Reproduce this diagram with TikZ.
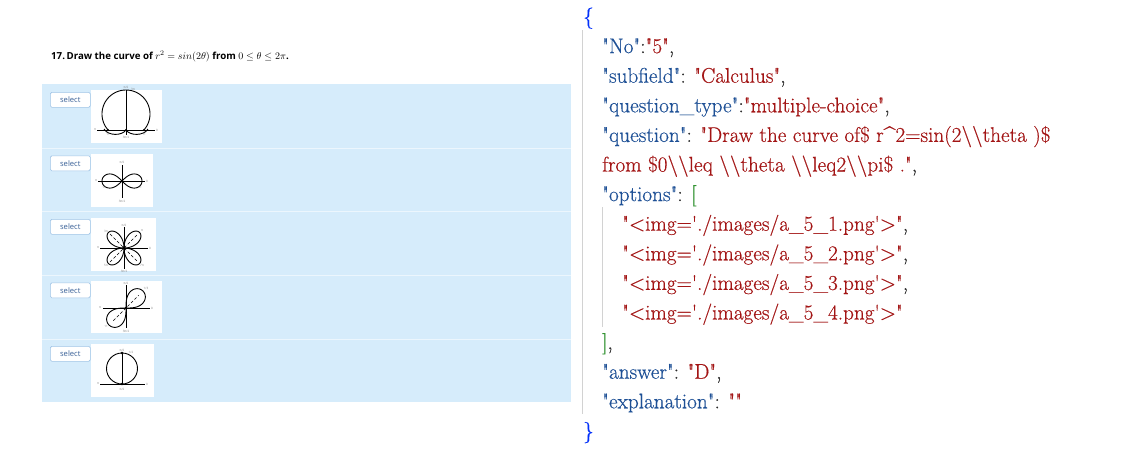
\documentclass[tikz,border=0pt]{standalone}
\usepackage{fontspec}
\newfontfamily\uisans{Open Sans}
\newfontfamily\jsonfont{Latin Modern Roman}[FakeBold=0.45]
\definecolor{panel}{RGB}{214,236,251}
\definecolor{sepline}{RGB}{236,246,253}
\definecolor{btnborder}{RGB}{160,196,230}
\definecolor{btntext}{RGB}{55,95,150}
\definecolor{jkey}{RGB}{30,80,150}
\definecolor{jstr}{RGB}{163,21,21}
\definecolor{jbrace}{RGB}{4,49,250}
\definecolor{jbrack}{RGB}{49,147,49}
\definecolor{jpunct}{RGB}{40,40,40}
\definecolor{guide}{RGB}{210,210,210}
\newcommand{\dq}{\textquotedbl}
\newcommand{\jk}[1]{\textcolor{jkey}{\dq#1\dq}}
\newcommand{\js}[1]{\textcolor{jstr}{\dq#1\dq}}
\newcommand{\jr}[1]{\textcolor{jstr}{#1}}
\newcommand{\jp}[1]{\textcolor{jpunct}{#1}}
\newcommand{\bs}{\textbackslash\textbackslash{}}
\newcommand{\sq}{\textquotesingle}
\tikzset{
  jline/.style={anchor=base west, inner sep=0pt, font=\jsonfont\fontsize{21.2}{21.2}\selectfont},
  btn/.style={draw=btnborder, fill=white, rounded corners=1.5pt, line width=0.6pt,
    minimum width=40pt, minimum height=15pt, inner sep=0pt, anchor=north west,
    font=\uisans\fontsize{7.6}{7.6}\selectfont, text=btntext},
  imgbox/.style={fill=white, draw=none, inner sep=0pt, anchor=north west},
  curve/.style={line width=0.9pt, black},
  axisln/.style={line width=1pt, black},
  lbl/.style={font=\uisans\fontsize{3}{3}\selectfont, text=gray, inner sep=0pt},
  dotp/.style={fill=black}
}
\begin{document}
\begin{tikzpicture}[x=1pt,y=-1pt]
\useasboundingbox (0,0) rectangle (1144,459);
\fill[white] (0,0) rectangle (1144,459);

% ---------- left panel ----------
\node[anchor=base west, inner sep=0pt, font=\uisans\bfseries\fontsize{9.7}{9.7}\selectfont] (q) at (51,59)
  {17.\,Draw the curve of $r^2=sin(2\theta)$ from $0\leq\theta\leq2\pi$.};

\fill[panel] (42,84) rectangle (571,402);
\foreach \yy in {148,211.7,275.5,339}
  \draw[sepline, line width=1pt] (42,\yy) -- (571,\yy);

% buttons and image boxes
\node[btn] (b1) at (50,92) {select};
\node[btn] (b2) at (50,155.5) {select};
\node[btn] (b3) at (50,219) {select};
\node[btn] (b4) at (50,282.5) {select};
\node[btn] (b5) at (50,346) {select};

\node[imgbox, minimum width=71pt, minimum height=53pt] (i1) at (91,90) {};
\node[imgbox, minimum width=62pt, minimum height=53pt] (i2) at (91,154) {};
\node[imgbox, minimum width=65pt, minimum height=53pt] (i3) at (91,218) {};
\node[imgbox, minimum width=71pt, minimum height=52pt] (i4) at (91,281) {};
\node[imgbox, minimum width=63pt, minimum height=53pt] (i5) at (91,344) {};

% plot 1
\begin{scope}[shift={(126,130)}]
  \draw[axisln] (-29,0) -- (29,0);
  \draw[curve] plot[domain=-41.8:221.8, samples=70, smooth] ({24*cos(\x)},{-16-24*sin(\x)});
  \draw[curve] (-22,-1) .. controls (-18,6) and (-4,6) .. (0,0);
  \draw[curve] (0,0) .. controls (4,6) and (18,6) .. (22,-1);
  \draw[curve] (0,-40) -- (0,5);
  \fill[dotp] (-18,0) circle (1.2) (18,0) circle (1.2) (0,0) circle (1.2);
  \node[lbl] (l1a) at (0,-42.5) {π/2};
  \node[lbl] (l1b) at (7,-41) {3π};
  \node[lbl] (l1c) at (-31,0) {π};
  \node[lbl] (l1d) at (31,0) {0};
  \node[lbl] (l1e) at (-18,4) {11};
  \node[lbl] (l1f) at (0,7.5) {3π/2};
  \node[lbl] (l1g) at (18,4) {11};
\end{scope}

% plot 2
\begin{scope}[shift={(122,181)}]
  \draw[axisln] (-24,0) -- (23,0);
  \draw[axisln] (0,-16) -- (0,17);
  \draw[curve] plot[domain=0:360, samples=120, smooth] ({20*cos(\x)/(1+sin(\x)*sin(\x))},{20*sin(\x)*cos(\x)/(1+sin(\x)*sin(\x))});
  \fill[dotp] (0,0) circle (1.3);
  \node[lbl] (l2a) at (0,-19) {π/2};
  \node[lbl] (l2b) at (-26,0) {π};
  \node[lbl] (l2c) at (25,0) {0};
  \node[lbl] (l2d) at (-18,6) {11};
  \node[lbl] (l2e) at (18,6) {11};
  \node[lbl] (l2f) at (0,20) {3π/2};
\end{scope}

% plot 3
\begin{scope}[shift={(124,248)}]
  \draw[axisln] (-24,0) -- (24,0);
  \draw[axisln] (0,-21) -- (0,21);
  \draw[curve] plot[domain=0:360, samples=160, smooth] ({22*sin(2*\x)*cos(\x)},{22*sin(2*\x)*sin(\x)});
  \draw[densely dashed, line width=0.4pt] (-14,-14) -- (14,14) (-14,14) -- (14,-14);
  \fill[dotp] (0,0) circle (1.8);
  \node[lbl] (l3a) at (0,-23) {π/2};
  \node[lbl] (l3b) at (-18,-17) {3π};
  \node[lbl] (l3c) at (18,-17) {π};
  \node[lbl] (l3d) at (-26,0) {π};
  \node[lbl] (l3e) at (26,0) {0};
  \node[lbl] (l3f) at (-18,17) {5π};
  \node[lbl] (l3g) at (18,17) {7π};
  \node[lbl] (l3h) at (0,23) {3π/2};
\end{scope}

% plot 4
\begin{scope}[shift={(126,308)}]
  \draw[axisln] (-23,0) -- (24,0);
  \draw[axisln] (0,-23) -- (0,20);
  \begin{scope}[rotate=45]
    \draw[curve] plot[domain=0:360, samples=120, smooth] ({24*cos(\x)/(1+sin(\x)*sin(\x))},{24*sin(\x)*cos(\x)/(1+sin(\x)*sin(\x))});
    \draw[densely dashed, line width=0.4pt] (-18,0) -- (18,0);
  \end{scope}
  \fill[dotp] (0,0) circle (1.3);
  \node[lbl] (l4a) at (20,-20) {1/3};
  \node[lbl] (l4b) at (-26,0) {π};
  \node[lbl] (l4c) at (26,0) {0};
  \node[lbl] (l4d) at (-20,18) {11};
  \node[lbl] (l4e) at (0,23) {3π/2};
  \node[lbl] (l4f) at (0,-25) {π/2};
\end{scope}

% plot 5
\begin{scope}[shift={(122,384)}]
  \draw[axisln] (-22,0) -- (23,0);
  \draw[curve] (0,-15.5) circle (15.5);
  \draw[curve] (0,-31) -- (0,0);
  \fill[dotp] (0,-31) circle (1.3) (0,0) circle (1.3);
  \node[lbl] (l5a) at (0,-33.5) {π/2};
  \node[lbl] (l5b) at (9,-32) {1/2};
  \node[lbl] (l5c) at (-24,0) {π};
  \node[lbl] (l5d) at (25,0) {0};
  \node[lbl] (l5e) at (0,5) {π/2};
\end{scope}

% ---------- JSON ----------
\draw[guide, line width=0.8pt] (582,30) -- (582,414);
\draw[guide, line width=0.8pt] (602,207) -- (602,327);

\node[jline] (j0) at (583,23.5) {\textcolor{jbrace}{\{}};
\node[jline] (j1) at (602,53.1) {\jk{No}\jp{:}\js{5}\jp{,}};
\node[jline] (j2) at (602,82.7) {\jk{subfield}\jp{:} \js{Calculus}\jp{,}};
\node[jline] (j3) at (602,112.3) {\jk{question\_type}\jp{:}\js{multiple-choice}\jp{,}};
\node[jline] (j4) at (602,141.9) {\jk{question}\jp{:} \jr{\dq Draw the curve of\$ r\textasciicircum 2=sin(2\bs theta )\$}};
\node[jline] (j5) at (602,171.5) {\jr{from \$0\bs leq \bs theta \bs leq2\bs pi\$ .\dq}\jp{,}};
\node[jline] (j6) at (602,201.1) {\jk{options}\jp{:} \textcolor{jbrack}{[}};
\node[jline] (j7) at (622,230.7) {\js{<img=\sq./images/a\_5\_1.png\sq>}\jp{,}};
\node[jline] (j8) at (622,260.3) {\js{<img=\sq./images/a\_5\_2.png\sq>}\jp{,}};
\node[jline] (j9) at (622,289.9) {\js{<img=\sq./images/a\_5\_3.png\sq>}\jp{,}};
\node[jline] (j10) at (622,319.5) {\js{<img=\sq./images/a\_5\_4.png\sq>}};
\node[jline] (j11) at (602,349.1) {\textcolor{jbrack}{]}\jp{,}};
\node[jline] (j12) at (602,378.7) {\jk{answer}\jp{:} \js{D}\jp{,}};
\node[jline] (j13) at (602,408.3) {\jk{explanation}\jp{:} \js{}};
\node[jline] (j14) at (583,437.9) {\textcolor{jbrace}{\}}};
\end{tikzpicture}
\end{document}
